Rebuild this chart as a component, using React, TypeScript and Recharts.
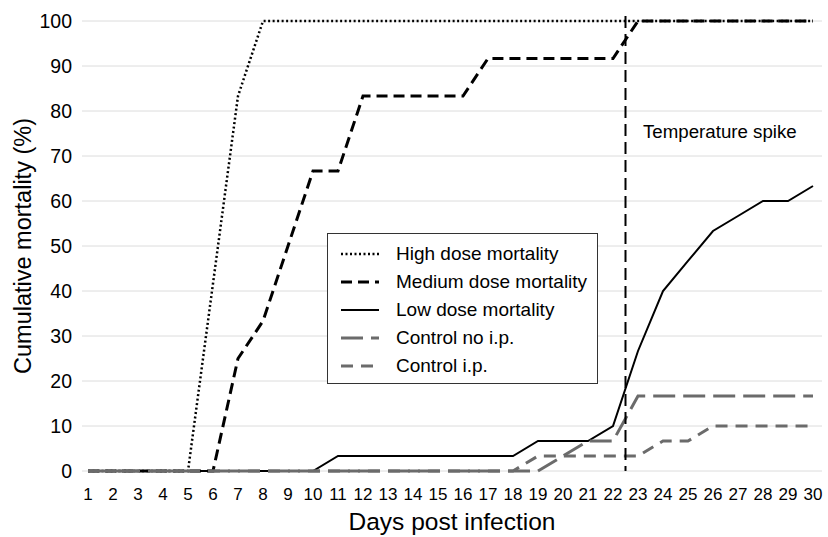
import {
  LineChart,
  Line,
  XAxis,
  YAxis,
  CartesianGrid,
  ReferenceLine,
  ReferenceDot,
  Legend,
  Label,
} from "recharts";

const days = [1, 2, 3, 4, 5, 6, 7, 8, 9, 10, 11, 12, 13, 14, 15, 16, 17, 18, 19, 20, 21, 22, 23, 24, 25, 26, 27, 28, 29, 30];
const yTicks = [0, 10, 20, 30, 40, 50, 60, 70, 80, 90, 100];

const highDose = [0, 0, 0, 0, 0, 41.67, 83.33, 100, 100, 100, 100, 100, 100, 100, 100, 100, 100, 100, 100, 100, 100, 100, 100, 100, 100, 100, 100, 100, 100, 100];
const mediumDose = [0, 0, 0, 0, 0, 0, 25, 33.33, 50, 66.67, 66.67, 83.33, 83.33, 83.33, 83.33, 83.33, 91.67, 91.67, 91.67, 91.67, 91.67, 91.67, 100, 100, 100, 100, 100, 100, 100, 100];
const lowDose = [0, 0, 0, 0, 0, 0, 0, 0, 0, 0, 3.33, 3.33, 3.33, 3.33, 3.33, 3.33, 3.33, 3.33, 6.67, 6.67, 6.67, 10, 26.67, 40, 46.67, 53.33, 56.67, 60, 60, 63.33];
const controlNoIp = [0, 0, 0, 0, 0, 0, 0, 0, 0, 0, 0, 0, 0, 0, 0, 0, 0, 0, 0, 3.33, 6.67, 6.67, 16.67, 16.67, 16.67, 16.67, 16.67, 16.67, 16.67, 16.67];
const controlIp = [0, 0, 0, 0, 0, 0, 0, 0, 0, 0, 0, 0, 0, 0, 0, 0, 0, 0, 3.33, 3.33, 3.33, 3.33, 3.33, 6.67, 6.67, 10, 10, 10, 10, 10];

const spikeDay = 22.5;

const FONT = "'Liberation Sans', Arial, Helvetica, sans-serif";
const GREY = "#6b6b6b";

const series = [
  { key: "high", name: "High dose mortality", values: highDose, color: "#000", width: 2.5, dash: "2 2.5" },
  { key: "medium", name: "Medium dose mortality", values: mediumDose, color: "#000", width: 3, dash: "11 6" },
  { key: "low", name: "Low dose mortality", values: lowDose, color: "#000", width: 2, dash: undefined },
  { key: "noIp", name: "Control no i.p.", values: controlNoIp, color: GREY, width: 3, dash: "22 8" },
  { key: "ip", name: "Control i.p.", values: controlIp, color: GREY, width: 3, dash: "12 8" },
];

const data = days.map((day, i) => {
  const row: Record<string, number> = { day };
  series.forEach((s) => {
    row[s.key] = s.values[i];
  });
  return row;
});

// legend keeps the series order, not the alphabetical payload order
function LegendBox() {
  return (
    <div
      style={{
        width: 271,
        height: 151,
        boxSizing: "border-box",
        border: "1.5px solid #333",
        background: "#fff",
        paddingTop: 6,
        fontFamily: FONT,
        fontSize: 19,
        color: "#000",
      }}
    >
      {series.map((s) => (
        <div key={s.key} style={{ display: "flex", alignItems: "center", height: 28 }}>
          <svg width={38} height={6} style={{ marginLeft: 13, marginRight: 17 }}>
            <line x1={0} y1={3} x2={38} y2={3} stroke={s.color} strokeWidth={s.width} strokeDasharray={s.dash} />
          </svg>
          <span>{s.name}</span>
        </div>
      ))}
    </div>
  );
}

export default function App() {
  return (
    <div style={{ position: "absolute", left: 0, top: 0, width: 828, height: 537, background: "#fff" }}>
      <LineChart width={828} height={537} data={data} margin={{ top: 21, right: 6, bottom: 0, left: 0 }}>
        <CartesianGrid vertical={false} stroke="#dcdcdc" strokeWidth={1} />
        <XAxis
          dataKey="day"
          type="number"
          domain={[1, 30]}
          ticks={days}
          interval={0}
          padding={{ left: 6, right: 9 }}
          height={66}
          axisLine={false}
          tickLine={false}
          tickSize={0}
          tickMargin={17}
          tick={{ fontSize: 17, fill: "#000", fontFamily: FONT }}
        >
          <Label
            value="Days post infection"
            position="insideBottom"
            offset={7}
            style={{ fontSize: 24.5, fill: "#000", fontFamily: FONT }}
          />
        </XAxis>
        <YAxis
          domain={[0, 100]}
          ticks={yTicks}
          width={82}
          axisLine={false}
          tickLine={false}
          tickSize={0}
          tickMargin={10}
          tick={{ fontSize: 19.5, fill: "#000", fontFamily: FONT }}
        >
          <Label
            content={() => (
              <text
                x={31}
                y={246}
                transform="rotate(-90 31 246)"
                textAnchor="middle"
                style={{ fontSize: 23.5, fill: "#000", fontFamily: FONT }}
              >
                Cumulative mortality (%)
              </text>
            )}
          />
        </YAxis>

        {series.map((s) => (
          <Line
            key={s.key}
            type="linear"
            dataKey={s.key}
            name={s.name}
            stroke={s.color}
            strokeWidth={s.width}
            strokeDasharray={s.dash}
            dot={false}
            activeDot={false}
            isAnimationActive={false}
          />
        ))}

        <ReferenceLine
          segment={[
            { x: spikeDay, y: 101.1 },
            { x: spikeDay, y: 0 },
          ]}
          ifOverflow="visible"
          stroke="#000"
          strokeWidth={2}
          strokeDasharray="12 6"
        />
        <ReferenceDot
          x={spikeDay}
          y={75.4}
          r={0}
          fill="none"
          stroke="none"
          ifOverflow="visible"
          label={{
            value: "Temperature spike",
            position: "right",
            offset: 17.5,
            style: { fontSize: 18.7, fill: "#000", fontFamily: FONT },
          }}
        />

        <Legend
          layout="vertical"
          align="center"
          verticalAlign="middle"
          wrapperStyle={{ left: 327, top: 233, width: 271, height: 151 }}
          content={<LegendBox />}
        />
      </LineChart>
    </div>
  );
}
